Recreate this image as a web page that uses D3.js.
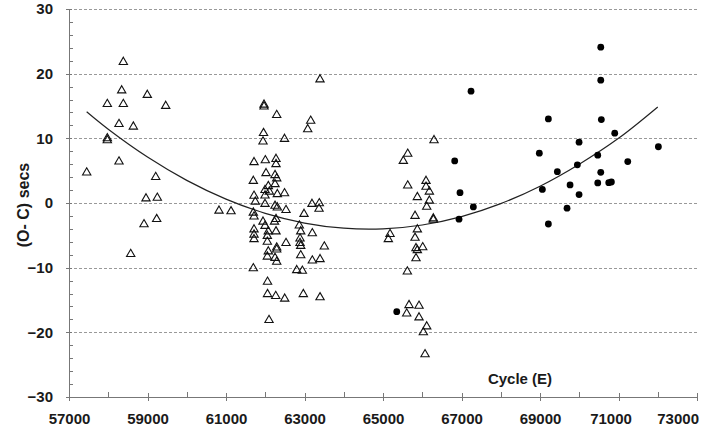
<!DOCTYPE html>
<html lang="en">
<head>
<meta charset="utf-8">
<title>(O-C) vs Cycle</title>
<script src="https://d3js.org/d3.v7.min.js"></script>
<style>
  html, body { margin: 0; padding: 0; background: #fff; }
  text { font-family: "Liberation Sans", Arial, sans-serif; font-weight: bold; fill: #1a1a1a; }
  .grid line { stroke: #999; stroke-dasharray: 3,2; }
  .axis path, .axis line { stroke: #777; fill: none; shape-rendering: crispEdges; }
  path.fit { fill: none; stroke: #222; stroke-width: 1.2px; }
</style>
</head>
<body>
<script>
// open triangles
var openCycle = [58384,58343,58995,57976,58384,59464,58274,58639,57976,57976,58274,57451,59209,58962,59250,58911,59234,58572,60822,61128,
  63395,61969,61969,62292,63158,63082,61956,61943,62491,61714,62002,62274,62274,61696,62020,62249,62292,62249,62078,61994,62104,62308,62491,61714,61994,
  61747,61994,62249,62308,63191,63377,63370,62529,61696,61714,62988,61943,61994,62236,62274,62868,62904,63199,61714,61714,61714,62078,62053,62274,62053,
  62529,62886,62886,62904,63505,62292,62292,62078,62053,62249,62292,62904,63199,63396,61696,62802,62945,62058,62058,62267,62496,62970,63396,62096,
  66300,65630,65518,65630,66096,66096,66181,65875,66181,66114,65816,66283,66283,65875,65179,65136,65816,65841,65875,66012,65841,65620,65663,65918,65604,65918,66114,66028,66071];
var openOC = [21.8,17.4,16.7,15.3,15.3,15.0,12.2,11.8,10.0,9.7,6.4,4.7,4.0,0.7,0.8,-3.3,-2.5,-7.9,-1.2,-1.3,
  19.1,15.2,14.9,13.6,12.7,11.4,10.8,9.5,9.9,6.3,6.6,6.8,6.0,3.4,4.6,4.3,3.8,2.9,2.6,2.0,1.75,1.35,1.5,1.1,1.15,
  0.2,-0.15,-0.45,-0.7,-0.15,-0.05,-0.9,-1.1,-1.5,-2.1,-1.7,-2.9,-3.55,-2.9,-2.5,-3.5,-4.4,-4.7,-4.1,-4.9,-5.6,-4.4,-5.1,-4.4,-6.0,
  -6.2,-5.5,-6.2,-6.65,-6.75,-6.9,-7.2,-7.5,-8.3,-8.5,-9.1,-8.1,-8.9,-8.7,-10.1,-10.4,-10.5,-12.2,-14.1,-14.4,-14.8,-14.1,-14.6,-18.1,
  9.7,7.6,6.5,2.7,3.4,2.5,1.75,0.9,0.35,-0.6,-2.0,-2.4,-2.6,-4.1,-4.8,-5.6,-5.4,-7.0,-7.3,-6.85,-8.55,-10.6,-15.8,-15.9,-17.1,-17.7,-19.1,-20.0,-23.4];

// filled circles
var fillCycle = [65350,67243,66827,66962,66937,67302,70548,70548,69213,70563,70904,69995,72016,68983,70471,71236,69952,69442,70548,69766,70471,70752,70819,69060,69995,69689,69213];
var fillOC = [-16.8,17.3,6.5,1.6,-2.5,-0.6,24.1,19.0,13.0,12.9,10.8,9.4,8.7,7.7,7.4,6.4,5.9,4.85,4.75,2.8,3.1,3.15,3.25,2.1,1.3,-0.8,-3.25];

// fitted curve
var fitCycle = [57450,58000,59000,60000,61000,62000,63000,64000,65000,66000,67000,68000,69000,70000,71000,72000];
var fitOC = [14.1,11.4,7.1,3.5,0.6,-1.6,-3.1,-3.9,-4.0,-3.4,-2.1,-0.1,2.6,6.0,10.0,14.85];

var xTicks = [57000,59000,61000,63000,65000,67000,69000,71000,73000];
var yTicks = [-30,-20,-10,0,10,20,30];

var W = 714, H = 436;
var x = d3.scaleLinear().domain([57000,73000]).range([69,697]);
var y = d3.scaleLinear().domain([-30,30]).range([397,9]);

var svg = d3.select("body").append("svg").attr("width",W).attr("height",H);

// gridlines
svg.append("g").attr("class","grid")
  .selectAll("line").data(yTicks.filter(function(d){ return d > -30; })).enter()
  .append("line")
  .attr("x1",x(57000)).attr("x2",x(73000))
  .attr("y1",function(d){ return Math.round(y(d))+0.5; })
  .attr("y2",function(d){ return Math.round(y(d))+0.5; });

// minor ticks (inside)
var xMinor = d3.range(58000,73000,2000);
var yMinor = d3.range(-28,30,2).filter(function(d){ return d % 10 !== 0; });
svg.append("g").attr("class","axis").attr("transform","translate(0,"+y(-30)+")")
  .call(d3.axisBottom(x).tickValues(xMinor).tickSize(-5).tickFormat(""))
  .select(".domain").remove();
svg.append("g").attr("class","axis").attr("transform","translate("+x(57000)+",0)")
  .call(d3.axisLeft(y).tickValues(yMinor).tickSize(-4).tickFormat(""))
  .select(".domain").remove();

// major axes
var xAxis = svg.append("g").attr("class","axis").attr("transform","translate(0,"+y(-30)+")")
  .call(d3.axisBottom(x).tickValues(xTicks).tickSizeInner(4).tickSizeOuter(0).tickPadding(12).tickFormat(d3.format("d")));
xAxis.selectAll(".tick line").attr("y1",-4);
xAxis.selectAll("text").style("font-size","15px");
// the last two labels sit pulled in from the right edge, as in the original
xAxis.selectAll(".tick text").filter(function(d){ return d === 71000; }).attr("dx",-8);
xAxis.selectAll(".tick text").filter(function(d){ return d === 73000; }).attr("text-anchor","end").attr("dx",1.5);

var yAxis = svg.append("g").attr("class","axis").attr("transform","translate("+x(57000)+",0)")
  .call(d3.axisLeft(y).tickValues(yTicks).tickSizeInner(3).tickSizeOuter(0).tickPadding(13));
yAxis.selectAll(".tick line").attr("x1",3);
yAxis.selectAll("text").style("font-size","15px");

// axis titles
svg.append("text").attr("x",520).attr("y",384).attr("text-anchor","middle")
  .style("font-size","15px").text("Cycle (E)");
svg.append("text").attr("transform","translate(29,205) rotate(-90)").attr("text-anchor","middle")
  .style("font-size","16px").text("(O- C) secs");

// fit curve
var fit = fitCycle.map(function(c,i){ return [c, fitOC[i]]; });
svg.append("path").attr("class","fit")
  .attr("d", d3.line().x(function(d){ return x(d[0]); }).y(function(d){ return y(d[1]); }).curve(d3.curveCatmullRom)(fit));

// open triangles
var tri = d3.symbol().type(d3.symbolTriangle).size(30);
svg.append("g").selectAll("path").data(openCycle).enter().append("path")
  .attr("d", tri)
  .attr("transform", function(d,i){ return "translate("+x(d)+","+y(openOC[i])+")"; })
  .attr("fill","none").attr("stroke","#111").attr("stroke-width",1.1);

// filled circles
svg.append("g").selectAll("circle").data(fillCycle).enter().append("circle")
  .attr("cx", function(d){ return x(d); })
  .attr("cy", function(d,i){ return y(fillOC[i]); })
  .attr("r", 3.4).attr("fill","#000");
</script>
</body>
</html>
